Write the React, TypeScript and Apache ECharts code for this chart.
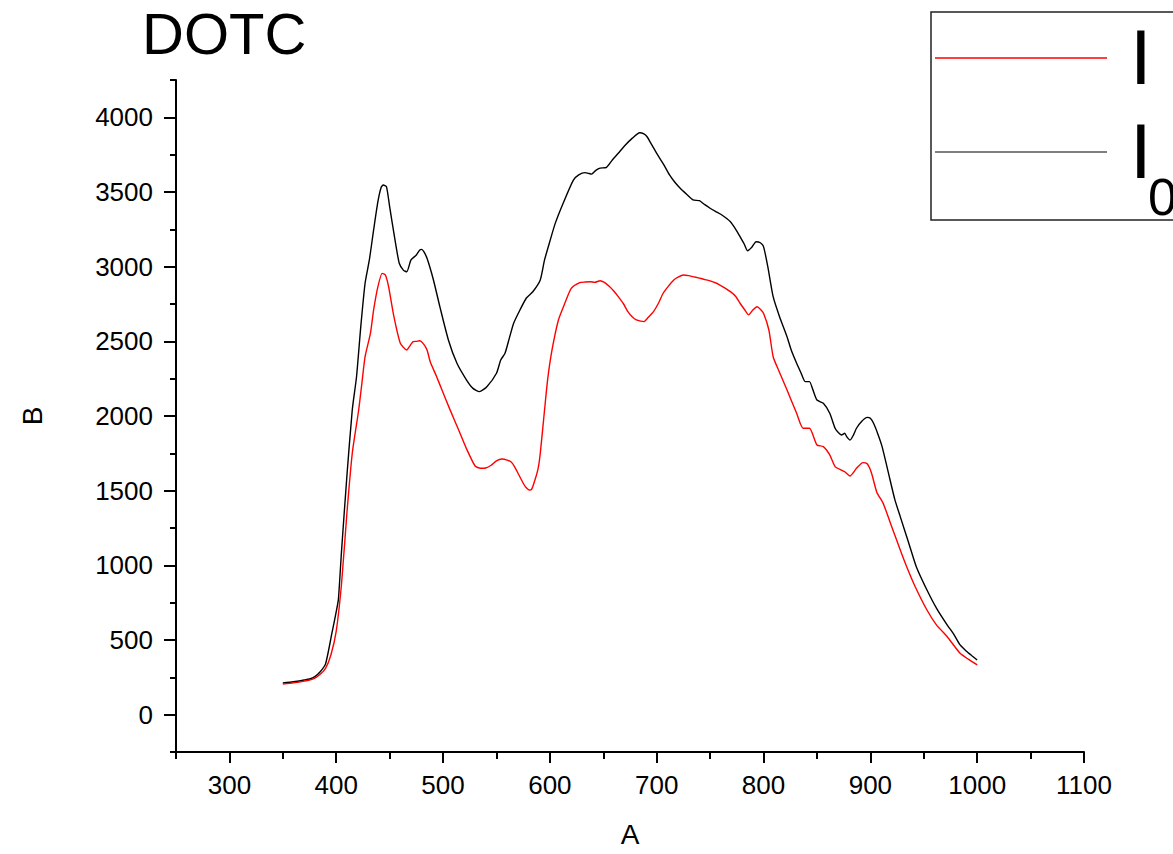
import React, { useEffect, useRef } from "react";
import * as echarts from "echarts";

const xI0 = [350,360,370,375,380,385,390,396,400,402,405,410,415,419,423,427,431,435,439,442,444,447,450,455,459,463,466,470,475,478,480,482,485,491,497,505,513,522,528,534,541,550,554,558,562,566,572,578,584,591,595,600,605,613,622,627,633,636,639,643,647,653,658,664,670,677,684,688,691,695,700,706,712,717,722,728,734,740,745,750,755,761,769,774,778,782,785,789,793,797,800,804,809,815,822,826,831,835,839,843,846,850,856,862,867,870,873,876,878,881,884,887,892,897,900,903,907,911,917,923,928,936,943,953,962,972,978,984,990,995,1000];
const yI0 = [212,220,232,239,255,287,340,547,690,770,1100,1600,2040,2263,2600,2889,3045,3246,3435,3530,3547,3536,3402,3179,3023,2975,2966,3045,3078,3110,3116,3100,3056,2911,2732,2509,2353,2241,2185,2163,2196,2286,2375,2420,2520,2620,2710,2790,2832,2911,3045,3170,3290,3435,3580,3615,3630,3625,3620,3645,3660,3665,3710,3759,3810,3859,3897,3890,3870,3820,3759,3690,3614,3565,3525,3485,3447,3442,3415,3391,3370,3346,3301,3250,3201,3150,3107,3130,3167,3160,3134,3000,2799,2665,2531,2440,2353,2290,2230,2230,2180,2107,2085,2018,1918,1890,1873,1884,1860,1839,1870,1918,1965,1991,1985,1951,1880,1795,1616,1438,1326,1148,991,835,712,600,540,467,425,395,366];

const xI = [350,360,370,375,380,385,390,395,400,405,410,415,421,424,427,432,435,439,443,446,449,454,460,466,469,472,475,478,482,485,488,494,499,506,515,522,530,535,540,545,550,555,560,564,567,571,577,581,583,586,589,591,595,598,602,608,614,620,628,633,638,642,647,651,656,660,664,669,673,677,681,685,688,692,697,702,706,711,716,720,725,730,734,739,744,750,756,762,769,774,778,782,786,790,794,797,800,805,809,814,822,831,837,843,850,856,862,867,873,876,881,884,887,893,897,901,906,912,920,928,934,942,953,962,972,984,992,1000];
const yI = [205,213,225,232,245,270,310,400,560,880,1350,1750,2040,2219,2397,2553,2710,2866,2955,2944,2866,2665,2487,2442,2470,2498,2500,2504,2480,2442,2364,2263,2174,2051,1900,1780,1665,1650,1652,1670,1700,1712,1705,1690,1660,1605,1527,1504,1510,1571,1650,1750,2040,2250,2442,2643,2755,2855,2893,2897,2899,2895,2906,2895,2866,2835,2799,2750,2699,2665,2643,2635,2632,2660,2699,2760,2822,2870,2911,2930,2944,2940,2933,2925,2916,2905,2889,2865,2833,2800,2755,2715,2677,2710,2732,2715,2688,2576,2397,2308,2174,2018,1918,1918,1806,1795,1739,1661,1638,1627,1598,1620,1650,1688,1680,1620,1490,1415,1259,1103,991,857,701,600,522,411,370,333];

const xMajorTicks = [300, 400, 500, 600, 700, 800, 900, 1000, 1100];
const xMinorTicks = [250, 350, 450, 550, 650, 750, 850, 950, 1050];
const yMajorTicks = [0, 500, 1000, 1500, 2000, 2500, 3000, 3500, 4000];
const yMinorTicks = [-250, 250, 750, 1250, 1750, 2250, 2750, 3250, 3750, 4250];

const seriesNames = ["I", "I0"];
const FONT = "'Liberation Sans', Arial, sans-serif";

export default function App() {
  const ref = useRef<HTMLDivElement>(null);
  useEffect(() => {
    if (!ref.current) return;
    const chart = echarts.init(ref.current, undefined, { renderer: "svg" });
    const tickLine = { color: "#000", width: 2 };
    const plain = (v: number) => String(v);
    chart.setOption({
      animation: false,
      backgroundColor: "#fff",
      textStyle: { fontFamily: FONT },
      title: {
        text: "DOTC",
        left: 142,
        top: 4,
        padding: 0,
        textStyle: { fontSize: 58, fontWeight: "normal", color: "#000", fontFamily: FONT },
      },
      grid: { left: 176, right: 89, top: 80, bottom: 102, containLabel: false },
      xAxis: [
        {
          type: "value",
          min: 250,
          max: 1100,
          interval: 50,
          name: "A",
          nameLocation: "middle",
          nameGap: 68,
          nameTextStyle: { fontSize: 28, color: "#000", fontFamily: FONT },
          axisLine: { onZero: false, lineStyle: { color: "#000", width: 2 } },
          axisTick: { customValues: xMajorTicks, length: 11, lineStyle: tickLine },
          axisLabel: { customValues: xMajorTicks, formatter: plain, fontSize: 26, color: "#000", margin: 20, fontFamily: FONT },
          splitLine: { show: false },
        },
        {
          type: "value",
          min: 250,
          max: 1100,
          interval: 50,
          position: "bottom",
          offset: 0,
          axisLine: { show: false, onZero: false },
          axisTick: { customValues: xMinorTicks, length: 7, lineStyle: tickLine },
          axisLabel: { show: false },
          splitLine: { show: false },
        },
      ],
      yAxis: [
        {
          type: "value",
          min: -250,
          max: 4250,
          interval: 250,
          name: "B",
          nameLocation: "middle",
          nameGap: 130,
          nameTextStyle: { fontSize: 28, color: "#000", fontFamily: FONT },
          axisLine: { show: true, onZero: false, lineStyle: { color: "#000", width: 2 } },
          axisTick: { customValues: yMajorTicks, length: 12, lineStyle: tickLine },
          axisLabel: { customValues: yMajorTicks, formatter: plain, fontSize: 26, color: "#000", margin: 23, fontFamily: FONT },
          splitLine: { show: false },
        },
        {
          type: "value",
          min: -250,
          max: 4250,
          interval: 250,
          position: "left",
          offset: 0,
          axisLine: { show: false, onZero: false },
          axisTick: { customValues: yMinorTicks, length: 6, lineStyle: tickLine },
          axisLabel: { show: false },
          splitLine: { show: false },
        },
      ],
      series: [
        {
          name: seriesNames[1],
          type: "line",
          xAxisIndex: 0,
          yAxisIndex: 0,
          showSymbol: false,
          smooth: 0.2,
          lineStyle: { color: "#000", width: 1.4 },
          itemStyle: { color: "#000" },
          data: xI0.map((x, i) => [x, yI0[i]]),
        },
        {
          name: seriesNames[0],
          type: "line",
          xAxisIndex: 0,
          yAxisIndex: 0,
          showSymbol: false,
          smooth: 0.2,
          lineStyle: { color: "#ff0000", width: 1.4 },
          itemStyle: { color: "#ff0000" },
          data: xI.map((x, i) => [x, yI[i]]),
        },
      ],
      graphic: [
        {
          type: "rect",
          shape: { x: 931, y: 12, width: 300, height: 208 },
          style: { fill: "#fff", stroke: "#222", lineWidth: 1.5 },
          z: 10,
        },
        {
          type: "line",
          shape: { x1: 935, y1: 58, x2: 1107, y2: 58 },
          style: { stroke: "#ff0000", lineWidth: 1.5 },
          z: 11,
        },
        {
          type: "line",
          shape: { x1: 935, y1: 152, x2: 1107, y2: 152 },
          style: { stroke: "#000", lineWidth: 1.2 },
          z: 11,
        },
        {
          type: "text",
          x: 1130,
          y: 57,
          style: { text: "I", fontSize: 78, fontFamily: FONT, fill: "#000", verticalAlign: "middle", align: "left" },
          z: 11,
        },
        {
          type: "text",
          x: 1130,
          y: 151,
          style: { text: "I", fontSize: 78, fontFamily: FONT, fill: "#000", verticalAlign: "middle", align: "left" },
          z: 11,
        },
        {
          type: "text",
          x: 1148,
          y: 197,
          style: { text: "0", fontSize: 52, fontFamily: FONT, fill: "#000", verticalAlign: "middle", align: "left" },
          z: 11,
        },
      ],
    });
    return () => chart.dispose();
  }, []);
  return (
    <div
      ref={ref}
      style={{ position: "absolute", left: 0, top: 0, width: 1173, height: 854 }}
    />
  );
}
